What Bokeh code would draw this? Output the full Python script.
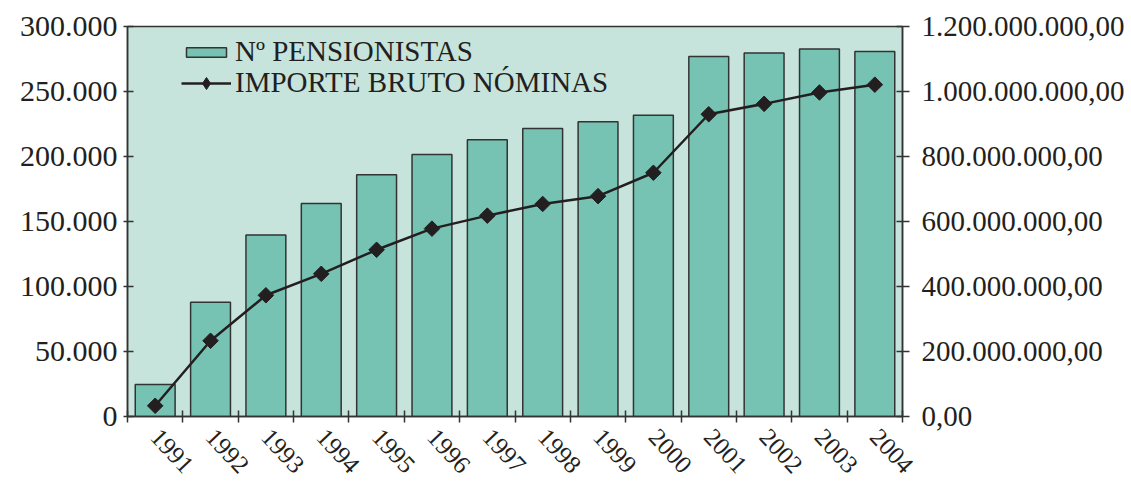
from bokeh.plotting import figure
from bokeh.models import (Range1d, LinearAxis, FixedTicker, Legend, LegendItem,
                          ColumnDataSource)
from bokeh.embed import file_html
from bokeh.resources import INLINE

years = ["1991", "1992", "1993", "1994", "1995", "1996", "1997",
         "1998", "1999", "2000", "2001", "2002", "2003", "2004"]
pensionistas = [24600, 87900, 139700, 163800, 186000, 201500, 212800,
                221500, 226700, 231800, 276900, 279700, 282600, 280800]
importe = [33e6, 233e6, 373e6, 439e6, 513e6, 578e6, 618e6,
           654e6, 678e6, 750e6, 930e6, 962e6, 997e6, 1021e6]

left_ticks = [0, 50000, 100000, 150000, 200000, 250000, 300000]
left_labels = ["0", "50.000", "100.000", "150.000", "200.000", "250.000", "300.000"]
right_ticks = [0, 200e6, 400e6, 600e6, 800e6, 1000e6, 1200e6]
right_labels = ["0,00", "200.000.000,00", "400.000.000,00", "600.000.000,00",
                "800.000.000,00", "1.000.000.000,00", "1.200.000.000,00"]

FONT = "Liberation Serif"
TXT = "#231f20"

x = list(range(1, len(years) + 1))
src = ColumnDataSource(dict(x=x, p=pensionistas, imp=importe))

p = figure(frame_width=775, frame_height=390, output_backend="svg", toolbar_location=None,
           x_range=Range1d(0.5, len(years) + 0.5), y_range=Range1d(0, 300000),
           min_border_left=127, min_border_right=10, min_border_top=26,
           min_border_bottom=10)
p.extra_y_ranges = {"right": Range1d(0, 1.2e9)}
p.background_fill_color = "#c6e3dc"
p.border_fill_color = "white"
p.outline_line_color = "#333333"
p.outline_line_width = 1.5
p.xgrid.visible = False
p.ygrid.visible = False

bars = p.vbar(x="x", top="p", width=0.72, source=src, fill_color="#77c3b3",
              line_color="#333333", line_width=1.5)
ln = p.line(x="x", y="imp", source=src, y_range_name="right",
            line_color=TXT, line_width=2.5)
mk = p.scatter(x="x", y="imp", source=src, y_range_name="right", marker="square",
               angle=0.785398, size=11, fill_color=TXT, line_color=TXT)
# tiny diamonds hidden under the markers; used for the legend symbol
leg_mk = p.scatter(x="x", y="imp", source=src, y_range_name="right", marker="diamond",
                   size=1, fill_color=TXT, line_color=TXT)

# x axis
xa = p.xaxis[0]
xa.ticker = FixedTicker(ticks=x, minor_ticks=[i + 0.5 for i in range(0, len(years) + 1)])
xa.major_label_overrides = {i: y for i, y in zip(x, years)}
xa.major_tick_in = 0
xa.major_tick_out = 0
xa.minor_tick_in = 6
xa.minor_tick_out = 6
xa.minor_tick_line_color = "#333333"
xa.minor_tick_line_width = 1.5
xa.axis_line_color = "#333333"
xa.axis_line_width = 1.5
xa.major_label_orientation = -0.82
xa.major_label_text_font = FONT
xa.major_label_text_font_size = "25px"
xa.major_label_text_color = TXT
xa.major_label_standoff = 10

# left axis
ya = p.yaxis[0]
ya.ticker = FixedTicker(ticks=left_ticks, minor_ticks=[])
ya.major_label_overrides = {t: l for t, l in zip(left_ticks, left_labels)}
ya.major_tick_in = 6
ya.major_tick_out = 4
ya.major_tick_line_color = "#333333"
ya.major_tick_line_width = 1.5
ya.axis_line_color = "#333333"
ya.axis_line_width = 1.5
ya.major_label_text_font = FONT
ya.major_label_text_font_size = "30px"
ya.major_label_text_color = TXT
ya.major_label_standoff = 6

# right axis
ra = LinearAxis(y_range_name="right",
                ticker=FixedTicker(ticks=right_ticks, minor_ticks=[]))
ra.major_label_overrides = {t: l for t, l in zip(right_ticks, right_labels)}
ra.major_tick_in = 6
ra.major_tick_out = 7
ra.major_tick_line_color = "#333333"
ra.major_tick_line_width = 1.5
ra.axis_line_color = "#333333"
ra.axis_line_width = 1.5
ra.major_label_text_font = FONT
ra.major_label_text_font_size = "29px"
ra.major_label_text_color = TXT
ra.major_label_standoff = 12
p.add_layout(ra, "right")

common = dict(orientation="vertical", background_fill_alpha=0, border_line_alpha=0,
              glyph_width=50, label_height=30, label_standoff=4, padding=0, margin=0,
              label_text_font=FONT, label_text_font_size="29px", label_text_color=TXT)
leg1 = Legend(items=[LegendItem(label="Nº PENSIONISTAS", renderers=[bars])],
              location=(54, 348), glyph_height=12, **common)
leg2 = Legend(items=[LegendItem(label="IMPORTE BRUTO NÓMINAS", renderers=[ln, leg_mk])],
              location=(54, 317), glyph_height=30, **common)
p.add_layout(leg1, "center")
p.add_layout(leg2, "center")

open("out.html", "w").write(file_html(p, INLINE))
